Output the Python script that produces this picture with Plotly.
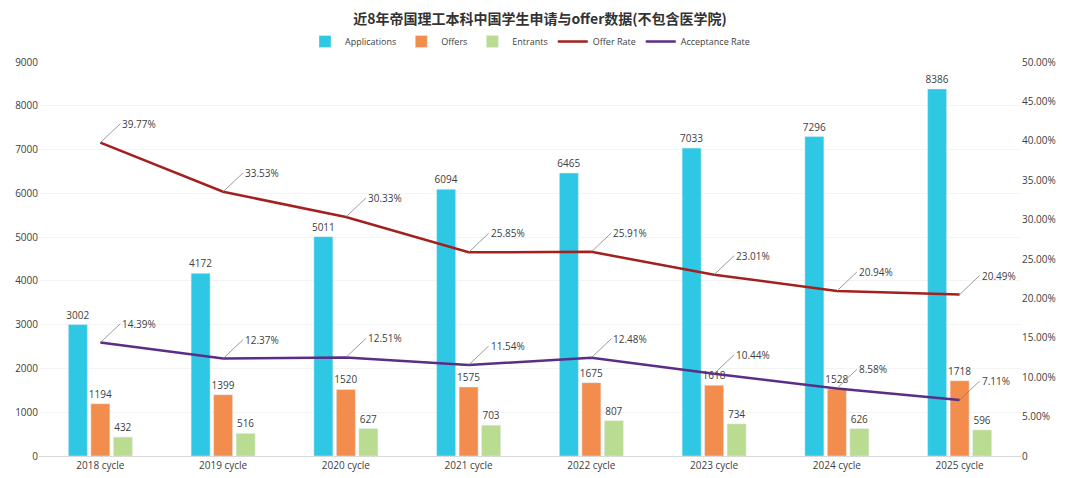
import plotly.graph_objects as go

cycles = ['2018 cycle', '2019 cycle', '2020 cycle', '2021 cycle',
          '2022 cycle', '2023 cycle', '2024 cycle', '2025 cycle']
applications = [3002, 4172, 5011, 6094, 6465, 7033, 7296, 8386]
offers = [1194, 1399, 1520, 1575, 1675, 1618, 1528, 1718]
entrants = [432, 516, 627, 703, 807, 734, 626, 596]
offer_rate = [39.77, 33.53, 30.33, 25.85, 25.91, 23.01, 20.94, 20.49]
accept_rate = [14.39, 12.37, 12.51, 11.54, 12.48, 10.44, 8.58, 7.11]

left_ticks = list(range(0, 9001, 1000))
right_ticks = [0, 5, 10, 15, 20, 25, 30, 35, 40, 45, 50]
right_labels = ['0'] + ['%.2f%%' % v for v in right_ticks[1:]]

font_main = 'Open Sans, Noto Sans CJK SC, sans-serif'
txt_col = '#404040'

fig = go.Figure()
bar_kw = dict(textposition='outside', constraintext='none', cliponaxis=False,
              textfont=dict(size=10, color=txt_col))
fig.add_trace(go.Bar(x=cycles, y=applications, name='Applications',
                     marker_color='#2ec7e4', text=applications, **bar_kw))
fig.add_trace(go.Bar(x=cycles, y=offers, name='Offers',
                     marker_color='#f38d4e', text=offers, **bar_kw))
fig.add_trace(go.Bar(x=cycles, y=entrants, name='Entrants',
                     marker_color='#b9dc90', text=entrants, **bar_kw))
fig.add_trace(go.Scatter(x=cycles, y=offer_rate, name='Offer Rate', yaxis='y2',
                         mode='lines', line=dict(color='#a3201f', width=2.5)))
fig.add_trace(go.Scatter(x=cycles, y=accept_rate, name='Acceptance Rate', yaxis='y2',
                         mode='lines', line=dict(color='#5a2d86', width=2.5)))

# leader-line labels for the two rate lines
for series in (offer_rate, accept_rate):
    for c, v in zip(cycles, series):
        fig.add_annotation(x=c, y=v, xref='x', yref='y2', text='%.2f%%' % v,
                           showarrow=True, arrowhead=0, arrowwidth=0.8,
                           arrowcolor='#808080', ax=20, ay=-19,
                           xanchor='left', yanchor='middle',
                           font=dict(size=10, color=txt_col))

# page body adds an 8px offset, so the figure is a bit smaller than the window
fig.update_layout(
    width=1064, height=470,
    margin=dict(l=31, r=51, t=54, b=22, autoexpand=False),
    paper_bgcolor='white', plot_bgcolor='white',
    font=dict(family=font_main, size=10, color=txt_col),
    title=dict(text='<b>近8年帝国理工本科中国学生申请与offer数据(不包含医学院)</b>',
               x=0.5, xanchor='center', yref='container', y=0.977, yanchor='middle',
               font=dict(family='Noto Sans CJK SC', size=14, color='#333333')),
    legend=dict(orientation='h', x=0.5, xanchor='center', y=1.052, yanchor='middle',
                font=dict(size=9, color=txt_col), itemwidth=30, tracegroupgap=0),
    barmode='group', bargap=0.45, bargroupgap=0.155,
    xaxis=dict(showline=True, linecolor='#d9d9d9', ticks='', tickfont=dict(size=10)),
    yaxis=dict(range=[0, 9000], tickvals=left_ticks, showgrid=True,
               gridcolor='#f3f3f3', zeroline=False, tickfont=dict(size=10)),
    yaxis2=dict(range=[0, 50], tickvals=right_ticks, ticktext=right_labels,
                overlaying='y', side='right', showgrid=False, zeroline=False,
                tickfont=dict(size=10)),
)
fig.write_html('out.html')
